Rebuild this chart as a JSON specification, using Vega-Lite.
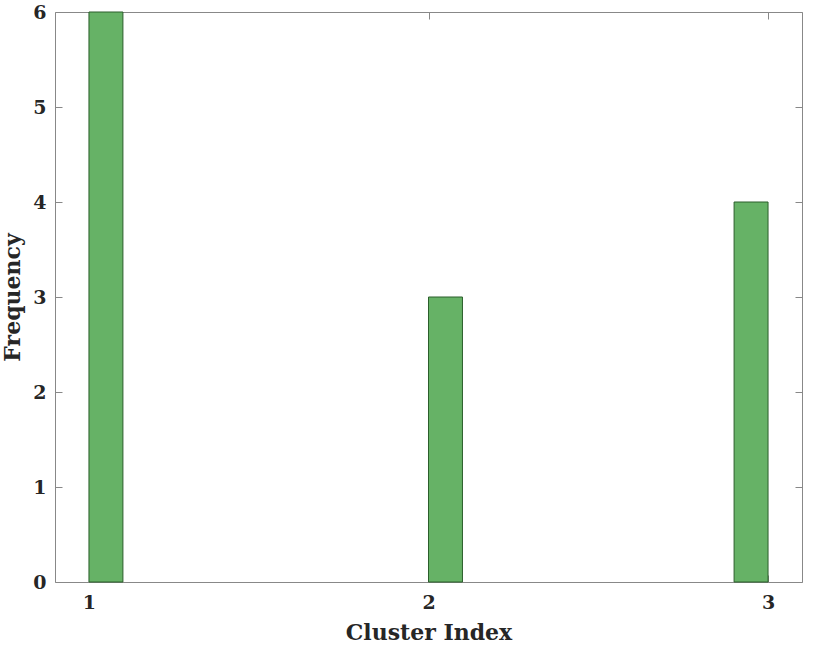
{
  "$schema": "https://vega.github.io/schema/vega-lite/v6.json",
  "width": 747,
  "height": 570,
  "autosize": "none",
  "padding": {"left": 55, "top": 12, "right": 28, "bottom": 73},
  "background": "white",
  "config": {
    "view": {"stroke": "#888888", "strokeWidth": 1},
    "axis": {
      "labelFont": "DejaVu Serif",
      "labelFontWeight": "bold",
      "labelFontSize": 19,
      "labelColor": "#262626",
      "titleFont": "DejaVu Serif",
      "titleFontWeight": "bold",
      "titleFontSize": 22,
      "titleColor": "#262626",
      "domain": false,
      "grid": false,
      "tickColor": "#888888",
      "tickSize": -7
    }
  },
  "data": {
    "values": [
      {"bin_start": 1.0, "bin_end": 1.1, "count": 6},
      {"bin_start": 2.0, "bin_end": 2.1, "count": 3},
      {"bin_start": 2.9, "bin_end": 3.0, "count": 4}
    ]
  },
  "resolve": {"axis": {"x": "independent", "y": "independent"}},
  "layer": [
    {
      "mark": {"type": "bar", "orient": "vertical", "fill": "#66b266", "stroke": "#2b5e2b", "strokeWidth": 1},
      "encoding": {
        "x": {
          "field": "bin_start", "type": "quantitative",
          "scale": {"domain": [0.9, 3.1], "nice": false, "zero": false, "padding": 0},
          "axis": {"orient": "bottom", "values": [1, 2, 3], "title": "Cluster Index", "labelPadding": 18, "titlePadding": 10, "format": "d"}
        },
        "x2": {"field": "bin_end"},
        "y": {
          "field": "count", "type": "quantitative",
          "scale": {"domain": [0, 6], "nice": false, "padding": 0},
          "axis": {"orient": "left", "values": [0, 1, 2, 3, 4, 5, 6], "title": "Frequency", "labelPadding": 16, "titlePadding": 8, "format": "d"}
        },
        "y2": {"datum": 0}
      }
    },
    {
      "mark": {"type": "bar", "orient": "vertical", "fillOpacity": 0, "strokeOpacity": 0},
      "encoding": {
        "x": {
          "field": "bin_start", "type": "quantitative",
          "axis": {"orient": "top", "values": [1, 2, 3], "labels": false, "title": null}
        },
        "x2": {"field": "bin_end"},
        "y": {
          "field": "count", "type": "quantitative",
          "axis": {"orient": "right", "values": [0, 1, 2, 3, 4, 5, 6], "labels": false, "title": null}
        },
        "y2": {"datum": 0}
      }
    }
  ]
}
